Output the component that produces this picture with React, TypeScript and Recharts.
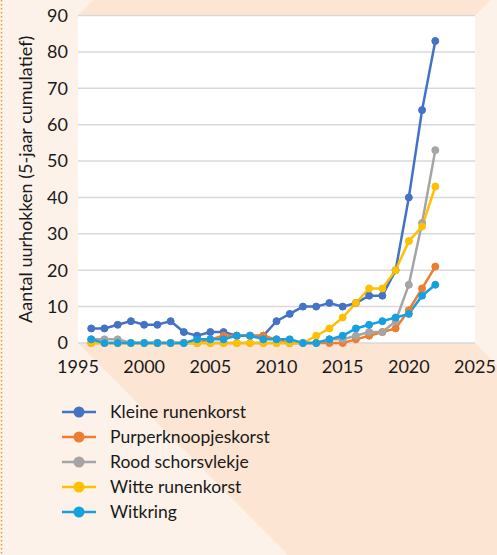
import { LineChart, Line, XAxis, YAxis, CartesianGrid } from "recharts";

const years = [
  1996, 1997, 1998, 1999, 2000, 2001, 2002, 2003, 2004, 2005, 2006, 2007, 2008, 2009,
  2010, 2011, 2012, 2013, 2014, 2015, 2016, 2017, 2018, 2019, 2020, 2021, 2022,
];

const kleineRunenkorst = [4, 4, 5, 6, 5, 5, 6, 3, 2, 3, 3, 2, 2, 2, 6, 8, 10, 10, 11, 10, 11, 13, 13, 20, 40, 64, 83];
const purperknoopjeskorst = [0, 0, 0, 0, 0, 0, 0, 0, 0, 1, 2, 2, 2, 2, 1, 0, 0, 0, 0, 0, 1, 2, 3, 4, 9, 15, 21];
const roodSchorsvlekje = [1, 1, 1, 0, 0, 0, 0, 0, 0, 0, 0, 0, 0, 0, 0, 0, 0, 0, 1, 1, 2, 3, 3, 6, 16, 33, 53];
const witteRunenkorst = [0, 0, 0, 0, 0, 0, 0, 0, 0, 0, 0, 0, 0, 0, 0, 0, 0, 2, 4, 7, 11, 15, 15, 20, 28, 32, 43];
const witkring = [1, 0, 0, 0, 0, 0, 0, 0, 1, 1, 1, 2, 2, 1, 1, 1, 0, 0, 1, 2, 4, 5, 6, 7, 8, 13, 16];

const xTicks = [1995, 2000, 2005, 2010, 2015, 2020, 2025];
const yTicks = [0, 10, 20, 30, 40, 50, 60, 70, 80, 90];

const SERIES = [
  { key: "kleine", name: "Kleine runenkorst", color: "#4472C4", values: kleineRunenkorst },
  { key: "purper", name: "Purperknoopjeskorst", color: "#ED7D31", values: purperknoopjeskorst },
  { key: "rood", name: "Rood schorsvlekje", color: "#A5A5A5", values: roodSchorsvlekje },
  { key: "witte", name: "Witte runenkorst", color: "#FFC000", values: witteRunenkorst },
  { key: "witkring", name: "Witkring", color: "#16A0E2", values: witkring },
];

const data = years.map((year, i) => {
  const row: Record<string, number> = { year };
  SERIES.forEach((s) => (row[s.key] = s.values[i]));
  return row;
});

const FONT = "Lato, 'Open Sans', sans-serif";
const LIGHT = "#FDF2E9";
const DARK = "#FCE5D2";
const INK = "#1a1a1a";

function Backdrop() {
  // mitred frame: light sides, darker top strip and bottom area
  return (
    <svg width={497} height={555} style={{ position: "absolute", left: 0, top: 0 }}>
      <rect x={0} y={0} width={497} height={555} fill={LIGHT} />
      <polygon points="93,0 491,0 475,15.5 78,15.5" fill={DARK} />
      <polygon points="78,343 475,343 497,365 497,555 288,555" fill={DARK} />
      <line x1={1.5} y1={0} x2={1.5} y2={555} stroke="#F29A3F" strokeWidth={1.5} strokeDasharray="1.5 2.5" />
    </svg>
  );
}

function LegendBox() {
  return (
    <div style={{ position: "absolute", left: 62, top: 399, fontFamily: FONT, fontSize: 17.5, color: INK }}>
      {SERIES.map((s) => (
        <div key={s.key} style={{ display: "flex", alignItems: "center", height: 25 }}>
          <svg width={34} height={14} style={{ marginRight: 14 }}>
            <line x1={0} y1={7} x2={34} y2={7} stroke={s.color} strokeWidth={2.5} />
            <circle cx={17} cy={7} r={5.5} fill={s.color} />
          </svg>
          <span>{s.name}</span>
        </div>
      ))}
    </div>
  );
}

export default function App() {
  return (
    <div style={{ position: "absolute", left: 0, top: 0, width: 497, height: 555, overflow: "hidden" }}>
      <Backdrop />
      <div style={{ position: "absolute", left: 0, top: 0 }}>
        <LineChart width={497} height={555} data={data} margin={{ top: 15.5, right: 22, bottom: 182, left: 0 }}>
          <CartesianGrid vertical={false} stroke="#D9D9D9" strokeWidth={1.5} fill="#ffffff" fillOpacity={1} />
          <XAxis
            dataKey="year"
            type="number"
            domain={[1995, 2025]}
            ticks={xTicks}
            height={30}
            axisLine={false}
            tickLine={false}
            tickSize={0}
            tickMargin={17}
            tick={{ fontFamily: FONT, fontSize: 18, fill: INK }}
          />
          <YAxis
            domain={[0, 90]}
            ticks={yTicks}
            width={78}
            axisLine={false}
            tickLine={false}
            tickSize={0}
            tickMargin={10}
            tick={{ fontFamily: FONT, fontSize: 18, fill: INK }}
            label={{
              value: "Aantal uurhokken (5-jaar cumulatief)",
              angle: -90,
              position: "insideLeft",
              offset: 26,
              style: { textAnchor: "middle", fontFamily: FONT, fontSize: 18, fill: INK },
            }}
          />
          {SERIES.map((s) => (
            <Line
              key={s.key}
              dataKey={s.key}
              name={s.name}
              type="linear"
              stroke={s.color}
              strokeWidth={2.5}
              dot={{ r: 3.5, fill: s.color, stroke: s.color, strokeWidth: 1 }}
              isAnimationActive={false}
            />
          ))}
        </LineChart>
      </div>
      <LegendBox />
    </div>
  );
}
